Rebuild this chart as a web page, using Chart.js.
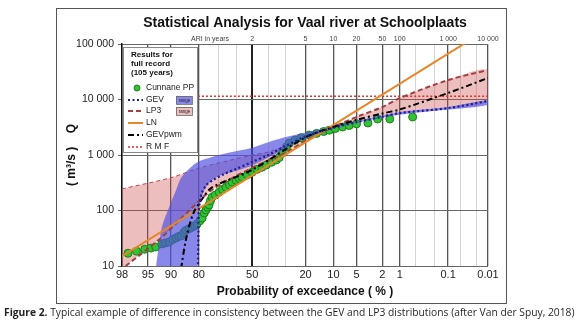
<!DOCTYPE html>
<html>
<head>
<meta charset="utf-8">
<script src="https://cdn.jsdelivr.net/npm/chart.js@4.4.1/dist/chart.umd.min.js"></script>
<style>
  html, body { margin: 0; padding: 0; background: #fff; }
  canvas { display: block; }
</style>
</head>
<body>
<canvas id="chart" width="580" height="323"></canvas>
<script>
// ================= DATA =================
// x values are probability of exceedance in %, y values are flows Q in m3/s
const chartTitle = "Statistical Analysis for Vaal river at Schoolplaats";
const probTicks = [98, 95, 90, 80, 50, 20, 10, 5, 2, 1, 0.1, 0.01];
const probLabels = ["98", "95", "90", "80", "50", "20", "10", "5", "2", "1", "0.1", "0.01"];
const probMinor = [70, 60, 40, 30, 0.5, 0.2, 0.05, 0.02];
const ariYears = [2, 5, 10, 20, 50, 100, 1000, 10000];
const ariLabels = ["2", "5", "10", "20", "50", "100", "1 000", "10 000"];
const qTicks = [10, 100, 1000, 10000, 100000];
const qLabels = ["10", "100", "1 000", "10 000", "100 000"];

// Cunnane plotting positions (observed annual maxima)
const ppProb = [97.5, 96.6, 95.5, 94.5, 93.6, 92.3, 91.5, 90.5, 89.5, 88.5, 87.7, 86.9, 86, 85.2, 84, 82.9,
  81.8, 80.8, 79.6, 78.5, 77.5, 76.7, 75.9, 75.2, 74.5, 73.7, 72, 69.9, 68, 66, 64, 62.4, 60, 58, 56.3,
  53, 50, 47, 44, 41.2, 38, 35.2, 33.5, 31.7, 29.5, 27.9, 25, 22, 18.4, 15.5, 13, 11.2, 9.5, 7.7, 6.3,
  5, 3.4, 2.4, 1.5, 0.57];
const ppQ = [17, 18.5, 20, 21, 22, 25, 26, 27, 30, 32, 34, 35, 40, 44, 47, 50,
  53, 57, 65, 73, 90, 102, 115, 126, 150, 174, 190, 214, 240, 262, 290, 324, 350, 375, 398,
  440, 490, 550, 600, 660, 740, 813, 900, 1086, 1400, 1645, 1850, 2050, 2290, 2450, 2650, 2800, 3000, 3200, 3400,
  3630, 3780, 4460, 4460, 4840];

const gevProb = [80.4, 80.2, 80.0, 79.5, 78.5, 76.5, 73, 67, 60, 50, 40, 30, 20, 10, 5, 2, 1, 0.1, 0.01];
const gevQ = [9, 40, 100, 150, 214, 288, 355, 457, 560, 750, 1000, 1450, 2150, 3100, 3900, 4900, 5700, 7000, 9400];

const gevHiProb = [93.6, 92.3, 90.5, 88.5, 86.7, 81.2, 73.7, 62.4, 50, 40, 30, 20, 10, 5, 1, 0.1, 0.01];
const gevHiQ = [9, 50, 115, 235, 400, 720, 920, 1130, 1350, 1700, 2100, 2550, 3250, 4000, 5900, 7300, 9700];
const gevLoProb = [0.01, 0.1, 1, 5, 10, 20, 30, 40, 50, 60, 70, 75, 78, 79.5, 80.2, 80.5];
const gevLoQ = [8000, 6600, 5300, 3800, 3000, 2000, 1300, 900, 650, 520, 420, 320, 210, 130, 50, 9];

const lp3Prob = [97.7, 92.3, 84, 73.7, 50, 30, 20, 10, 5, 2, 1, 0.1, 0.01];
const lp3Q = [10, 33, 100, 235, 590, 1100, 1800, 3200, 4840, 7330, 10600, 22400, 34000];

const lp3HiProb = [98, 90, 80, 50, 40, 30, 20, 10, 5, 2, 1, 0.1, 0.01];
const lp3HiQ = [245, 390, 580, 1000, 1130, 1450, 2020, 3200, 4840, 7330, 10600, 22400, 34000];
const lp3LoProb = [0.01, 0.1, 1, 2, 5, 10, 20, 50, 73.7, 84, 92.3, 98];
const lp3LoQ = [9400, 7000, 5700, 4900, 3900, 3000, 1700, 590, 235, 100, 33, 9];

const lnProb = [98, 50, 0.03];
const lnQ = [15, 430, 117000];

const gevpwmProb = [86.9, 85.2, 82.3, 77.9, 73.7, 50, 20, 10, 5, 2, 1, 0.1, 0.01];
const gevpwmQ = [9, 30, 90, 174, 262, 540, 2090, 3200, 4300, 5600, 6600, 13100, 24400];

const rmfProb = [98, 0.01];
const rmfQ = [11500, 11500];

// ================= PROBABILITY SCALE =================
function normInv(p) {
  const a = [-3.969683028665376e+01, 2.209460984245205e+02, -2.759285104469687e+02, 1.383577518672690e+02, -3.066479806614716e+01, 2.506628277459239e+00];
  const b = [-5.447609879822406e+01, 1.615858368580409e+02, -1.556989798598866e+02, 6.680131188771972e+01, -1.328068155288572e+01];
  const c = [-7.784894002430293e-03, -3.223964580411365e-01, -2.400758277161838e+00, -2.549732539343734e+00, 4.374664141464968e+00, 2.938163982698783e+00];
  const d = [7.784695709041462e-03, 3.224671290700398e-01, 2.445134137142996e+00, 3.754408661907416e+00];
  const pl = 0.02425;
  let q, r;
  if (p < pl) {
    q = Math.sqrt(-2 * Math.log(p));
    return (((((c[0]*q+c[1])*q+c[2])*q+c[3])*q+c[4])*q+c[5]) / ((((d[0]*q+d[1])*q+d[2])*q+d[3])*q+1);
  }
  if (p > 1 - pl) {
    q = Math.sqrt(-2 * Math.log(1 - p));
    return -(((((c[0]*q+c[1])*q+c[2])*q+c[3])*q+c[4])*q+c[5]) / ((((d[0]*q+d[1])*q+d[2])*q+d[3])*q+1);
  }
  q = p - 0.5; r = q * q;
  return (((((a[0]*r+a[1])*r+a[2])*r+a[3])*r+a[4])*r+a[5])*q / (((((b[0]*r+b[1])*r+b[2])*r+b[3])*r+b[4])*r+1);
}
const probZ = pct => normInv(1 - pct / 100);
const pts = (P, Q) => P.map((p, i) => ({ x: probZ(p), y: Q[i] }));
const ring = (hiP, hiQ, loP, loQ) => pts(hiP.concat(loP), hiQ.concat(loQ));

// grid lines for the bottom axis: labelled (major) + unlabelled (minor)
const xGrid = probTicks.map((p, i) => ({ p, label: probLabels[i], major: true }))
  .concat(probMinor.map(p => ({ p, label: "", major: false })))
  .sort((a, b) => b.p - a.p);

const FONT = '"Liberation Sans", Arial, sans-serif';

// ================= DECORATION (frame, title, legend, caption) =================
const decor = {
  id: "decor",
  afterDraw(chart) {
    const ctx = chart.ctx;
    ctx.save();
    ctx.strokeStyle = "#555"; ctx.lineWidth = 1;
    ctx.strokeRect(56.5, 8.5, 450, 295);

    ctx.fillStyle = "#111";
    ctx.font = "bold 14px " + FONT;
    ctx.textAlign = "center"; ctx.textBaseline = "middle";
    ctx.fillText(chartTitle, 305, 23);

    ctx.font = "7px " + FONT; ctx.fillStyle = "#444"; ctx.textAlign = "left";
    ctx.fillText("ARI in years", 191, 39);

    // legend
    ctx.fillStyle = "#fff"; ctx.fillRect(123, 47, 74, 105);
    ctx.strokeStyle = "#888"; ctx.strokeRect(123.5, 47.5, 74, 105);
    ctx.fillStyle = "#111"; ctx.font = "bold 8px " + FONT;
    ["Results for", "full record", "(105 years)"].forEach((t, i) => ctx.fillText(t, 131, 55 + i * 9));
    ctx.font = "8.5px " + FONT;
    const items = [
      { t: "Cunnane PP", y: 88 },
      { t: "GEV", y: 100, c: "#1c1c96", w: 2.2, d: [2, 2.5] },
      { t: "LP3", y: 111, c: "#a04040", w: 2, d: [5, 3] },
      { t: "LN", y: 123, c: "#e8862a", w: 2, d: [] },
      { t: "GEVpwm", y: 135, c: "#000", w: 2, d: [6, 3, 2, 3] },
      { t: "R M F", y: 147, c: "#e03030", w: 1.5, d: [2, 2] }
    ];
    items.forEach(it => {
      if (it.c) {
        ctx.strokeStyle = it.c; ctx.lineWidth = it.w; ctx.setLineDash(it.d);
        ctx.beginPath(); ctx.moveTo(128, it.y); ctx.lineTo(143, it.y); ctx.stroke();
        ctx.setLineDash([]);
      } else {
        ctx.fillStyle = "#33c233"; ctx.strokeStyle = "#1a7f1a"; ctx.lineWidth = 1;
        ctx.beginPath(); ctx.arc(137, it.y, 3, 0, Math.PI * 2); ctx.fill(); ctx.stroke();
      }
      ctx.fillStyle = "#222";
      ctx.fillText(it.t, 146, it.y);
    });
    [[96, "rgba(80,80,225,0.68)"], [107, "rgba(200,70,70,0.35)"]].forEach(([y, col]) => {
      ctx.fillStyle = col; ctx.fillRect(176, y, 16, 8);
      ctx.strokeStyle = "#666"; ctx.lineWidth = 0.8; ctx.strokeRect(176.5, y + 0.5, 16, 8);
      ctx.fillStyle = "#222"; ctx.font = "4.5px " + FONT; ctx.textAlign = "center";
      ctx.fillText("range", 184.5, y + 4.5);
      ctx.textAlign = "left"; ctx.font = "8.5px " + FONT;
    });

    // figure caption, fitted to the width of the page
    const bold = "Figure 2. ";
    const rest = "Typical example of difference in consistency between the GEV and LP3 distributions (after Van der Spuy, 2018)";
    const cf = '"Open Sans", "Noto Sans", sans-serif';
    ctx.font = "bold 10px " + cf; const wb = ctx.measureText(bold).width;
    ctx.font = "10px " + cf; const wr = ctx.measureText(rest).width;
    const size = 10 * 571 / (wb + wr);
    ctx.fillStyle = "#231f20"; ctx.textBaseline = "middle";
    ctx.font = "bold " + size + "px " + cf; ctx.fillText(bold, 4, 313);
    const w1 = ctx.measureText(bold).width;
    ctx.font = size + "px " + cf; ctx.fillText(rest, 4 + w1, 313);
    ctx.restore();
  }
};

// ================= CHART =================
const lineSet = (label, P, Q, color, width, dash, order) => ({
  label, data: pts(P, Q), borderColor: color, borderWidth: width, borderDash: dash,
  pointRadius: 0, fill: false, tension: 0.3, order
});

new Chart(document.getElementById("chart"), {
  type: "line",
  data: {
    datasets: [
      lineSet("GEV", gevProb, gevQ, "#1c1c96", 2.2, [2, 2.5], 0),
      lineSet("GEVpwm", gevpwmProb, gevpwmQ, "#000", 2, [6, 3, 2, 3], 0),
      lineSet("LN", lnProb, lnQ, "#e8862a", 2, [], 0),
      lineSet("LP3", lp3Prob, lp3Q, "#a04040", 2, [5, 3], 0),
      lineSet("R M F", rmfProb, rmfQ, "#e03030", 1.5, [2, 2], 0),
      { label: "GEV range", data: ring(gevHiProb, gevHiQ, gevLoProb, gevLoQ), borderWidth: 0,
        backgroundColor: "rgba(80,80,225,0.68)", fill: "shape", pointRadius: 0, tension: 0.3, order: 1 },
      { label: "Cunnane PP", data: pts(ppProb, ppQ), showLine: false, pointRadius: 4,
        pointBackgroundColor: "#33c233", pointBorderColor: "#1a7f1a", pointBorderWidth: 1, order: 2 },
      { label: "LP3 range", data: ring(lp3HiProb, lp3HiQ, lp3LoProb, lp3LoQ), borderWidth: 0,
        backgroundColor: "rgba(200,70,70,0.35)", fill: "shape", pointRadius: 0, tension: 0.3, order: 3 },
      lineSet("LP3 upper", lp3HiProb.slice(0, 7), lp3HiQ.slice(0, 7), "#b04848", 1, [4, 3], 3)
    ]
  },
  options: {
    responsive: false,
    animation: false,
    devicePixelRatio: 1,
    layout: { padding: { left: 0, right: 92, top: 0, bottom: 0 } },
    plugins: { legend: { display: false }, tooltip: { enabled: false } },
    scales: {
      x: {
        type: "linear", position: "bottom",
        min: probZ(98), max: probZ(0.01),
        afterBuildTicks: s => { s.ticks = xGrid.map(g => ({ value: probZ(g.p) })); },
        afterFit: s => { s.height = 57; },
        ticks: { autoSkip: false, maxRotation: 0, padding: 2, color: "#222",
          font: { family: FONT, size: 11 }, callback: (v, i) => xGrid[i] ? xGrid[i].label : "" },
        grid: { drawTicks: false,
          color: c => (xGrid[c.index] && !xGrid[c.index].major) ? "#d4d4d4" : (xGrid[c.index] && xGrid[c.index].p === 50 ? "#222" : "#555"),
          lineWidth: c => (xGrid[c.index] && xGrid[c.index].p === 50) ? 2 : (xGrid[c.index] && xGrid[c.index].major ? 1.3 : 1) },
        border: { display: false },
        title: { display: true, text: "Probability of exceedance ( % )", color: "#111",
          font: { family: FONT, size: 12, weight: "bold" }, padding: { top: 0, bottom: 24 } }
      },
      ari: {
        type: "linear", position: "top",
        min: probZ(98), max: probZ(0.01),
        afterBuildTicks: s => { s.ticks = ariYears.map(t => ({ value: probZ(100 / t) })); },
        afterFit: s => { s.height = 44; },
        ticks: { autoSkip: false, maxRotation: 0, padding: 1, color: "#444",
          font: { family: FONT, size: 7 }, callback: (v, i) => ariLabels[i] },
        grid: { display: false, drawTicks: false },
        border: { display: false }
      },
      y: {
        type: "logarithmic", min: 10, max: 100000,
        afterBuildTicks: s => { s.ticks = qTicks.map(v => ({ value: v })); },
        afterFit: s => { s.width = 122; },
        ticks: { padding: 4, color: "#222", font: { family: FONT, size: 10.5 },
          callback: (v, i) => qLabels[i] },
        grid: { color: "#666", lineWidth: 1, tickLength: 4 },
        border: { display: true, color: "#111", width: 1.5 },
        title: { display: true, text: "( m³/s )    Q", color: "#111",
          font: { family: FONT, size: 12, weight: "bold" }, padding: { top: 64, bottom: 0 } }
      }
    }
  },
  plugins: [decor]
});
</script>
</body>
</html>
